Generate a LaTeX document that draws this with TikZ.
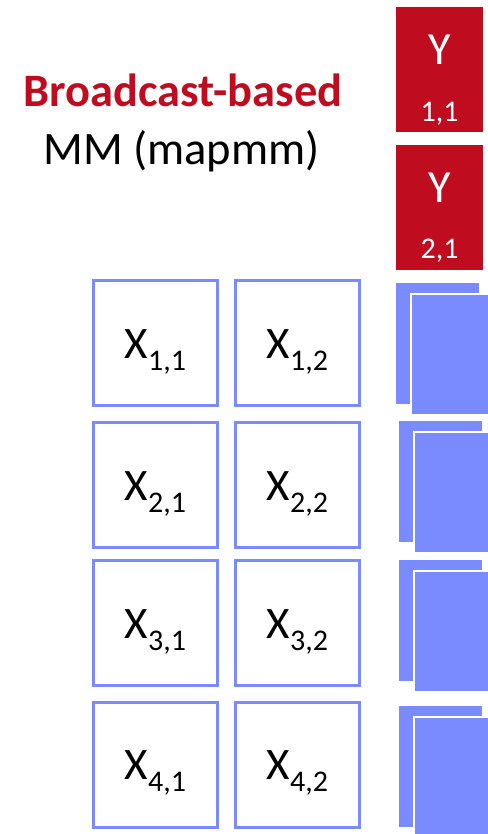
\documentclass[tikz,border=0pt]{standalone}
\usepackage{fontspec}
\setmainfont{Carlito}
\definecolor{tileblue}{RGB}{122,138,255}
\definecolor{tilered}{RGB}{192,12,31}
\tikzset{
  xbox/.style={draw=tileblue, line width=3pt, fill=white, rectangle, inner sep=0pt, minimum width=124pt, minimum height=125pt},
  ybox/.style={fill=tilered, rectangle, inner sep=0pt, minimum width=87pt, minimum height=125pt},
  backtile/.style={fill=tileblue, rectangle, inner sep=0pt, minimum width=83pt, minimum height=121pt},
  fronttile/.style={fill=tileblue, draw=white, line width=1.5pt, rectangle, inner sep=0pt, minimum width=83pt, minimum height=121pt},
  xlabel/.style={anchor=base, inner sep=0pt, text=black},
  ylabel/.style={anchor=base, inner sep=0pt, text=white},
}
\newcommand{\xmain}[1]{{\fontsize{45}{45}\selectfont #1}}
\newcommand{\xsub}[1]{\raisebox{-12pt}{\fontsize{30}{30}\selectfont #1}}
\begin{document}
\begin{tikzpicture}[x=1pt,y=-1pt]
\useasboundingbox (0,0) rectangle (487,834);
% title
\node[anchor=base, inner sep=0pt, text=tilered] (t1) at (183,107) {\fontsize{46.5}{46.5}\selectfont\bfseries Broadcast-based};
\node[anchor=base, inner sep=0pt] (t2) at (181.5,165) {\fontsize{46.5}{46.5}\selectfont MM (mapmm)};
% Y tiles
\node[ybox] (y11) at (439.5,69.5) {};
\node[ybox] (y21) at (439.5,207.5) {};
\node[ylabel] (y11a) at (439.5,65) {\fontsize{46}{46}\selectfont Y};
\node[ylabel] (y11b) at (439.5,122) {\fontsize{30}{30}\selectfont 1,1};
\node[ylabel] (y21a) at (439.5,203) {\fontsize{46}{46}\selectfont Y};
\node[ylabel] (y21b) at (439.5,258) {\fontsize{30}{30}\selectfont 2,1};
% X tiles
\foreach \r/\cy in {1/343,2/485,3/623,4/764.5}{
  \node[xbox] (x\r1) at (155.5,\cy) {};
  \node[xbox] (x\r2) at (297.5,\cy) {};
  \node[xlabel] (lx\r1) at (155.5,\cy+15) {\xmain{X}\xsub{\r,1}};
  \node[xlabel] (lx\r2) at (297.5,\cy+15) {\xmain{X}\xsub{\r,2}};
}
% result stacks
\node[backtile] (b1) at (437.5,343.5) {};
\node[fronttile] (f1) at (452.5,354.5) {};
\node[backtile] (b2) at (440.5,481.5) {};
\node[fronttile] (f2) at (455.5,492.5) {};
\node[backtile] (b3) at (440.5,620.5) {};
\node[fronttile] (f3) at (455.5,631.5) {};
\node[backtile] (b4) at (440.5,766.5) {};
\node[fronttile] (f4) at (455.5,777.5) {};
\end{tikzpicture}
\end{document}
